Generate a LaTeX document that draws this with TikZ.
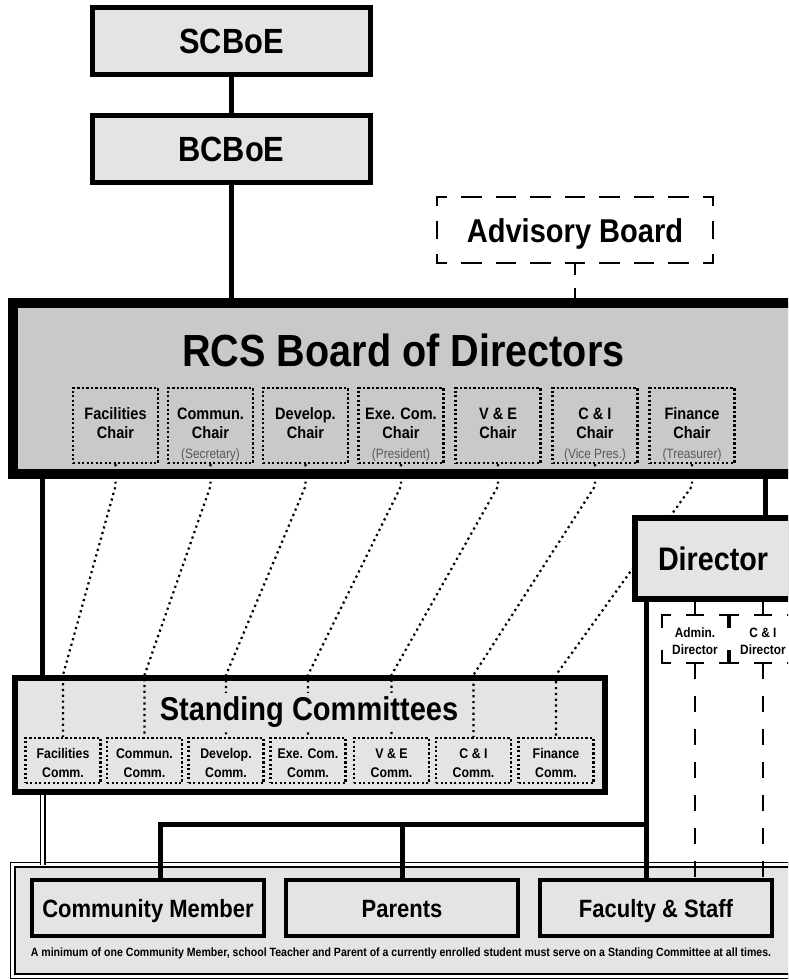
\documentclass[tikz,border=0pt]{standalone}
\usepackage{fontspec}
\setmainfont{Liberation Sans}[FakeStretch=0.88]

\definecolor{boardgray}{gray}{0.79}
\definecolor{boxgray}{gray}{0.895}
\definecolor{officergray}{gray}{0.35}

\newcommand{\officer}[1]{{\fontsize{13.5}{16}\selectfont\mdseries\color{officergray}#1}}

% one side of a dashed frame, dashes centred on the corners
\newcommand{\dashside}[5]{%
  \pgfmathsetlengthmacro{\dashgap}{#3/#4-#5}%
  \pgfmathsetlengthmacro{\dashhalf}{#5/2}%
  \draw[dashline, dash pattern=on #5pt off \dashgap, dash phase=\dashhalf] (#1) -- (#2);%
}
\newcommand{\dashframe}[7]{%
  \dashside{#1.north west}{#1.north east}{#2}{#4}{#5}%
  \dashside{#1.south west}{#1.south east}{#2}{#4}{#5}%
  \dashside{#1.north west}{#1.south west}{#3}{#6}{#7}%
  \dashside{#1.north east}{#1.south east}{#3}{#6}{#7}%
}

\begin{document}
\begin{tikzpicture}[x=1pt, y=-1pt]

\tikzstyle{tier}=[draw, line width=5pt, fill=boxgray, inner sep=0pt, minimum width=278pt, minimum height=67pt, font=\fontsize{35}{40}\selectfont\bfseries];
\tikzstyle{link}=[line width=5pt];
\tikzstyle{dashline}=[line width=2.5pt, line cap=rect];
\tikzstyle{dotframe}=[line width=2.2pt, dash pattern=on 2.2pt off 2.3pt];
\tikzstyle{dotlink}=[line width=2.2pt, dash pattern=on 2.2pt off 3.6pt];
\tikzstyle{chair}=[draw, dotframe, inner sep=0pt, minimum width=85pt, text height=70pt, text depth=5pt, align=center, font=\fontsize{16.5}{19.5}\selectfont\bfseries];
\tikzstyle{comm}=[draw, dotframe, inner sep=0pt, minimum width=75pt, text height=39pt, text depth=6pt, align=center, font=\fontsize{14}{19}\selectfont\bfseries];
\tikzstyle{subdir}=[inner sep=0pt, outer sep=0pt, minimum width=66pt, text height=39pt, text depth=9pt, align=center, font=\fontsize{13.5}{17}\selectfont\bfseries];
\tikzstyle{member}=[draw, line width=3.5pt, fill=boxgray, inner sep=0pt, minimum width=232pt, minimum height=56pt, text height=18pt, text depth=0pt, font=\fontsize{25}{30}\selectfont\bfseries];

\useasboundingbox (0,0) rectangle (788,980);
\clip (0,0) rectangle (788,980);

\coordinate (lft) at (42.5, 0);
\coordinate (rgt) at (765, 0);
\coordinate (bus) at (646.5, 824);

% members
\node[draw, line width=1.5pt, double=white, double distance=3pt, fill=boxgray, outer sep=0pt, minimum width=787.5pt, minimum height=111.5pt] (members) at (406.25, 920.25) {};
\node[font=\fontsize{12}{14}\selectfont\bfseries] (note) at (401, 953) {A minimum of one Community Member, school Teacher and Parent of a currently enrolled student must serve on a Standing Committee at all times.};

% boards of education
\node[tier] (scboe) at (231.5, 41) {SCBoE};
\node[tier] (bcboe) at (231.5, 149) {BCBoE};
\draw[link] (scboe) -- (bcboe);

\node[inner sep=0pt, outer sep=0pt, minimum width=276pt, minimum height=66pt, text height=24pt, text depth=0pt, font=\fontsize{33}{38}\selectfont\bfseries] (advisory) at (575, 230) {Advisory Board};
\dashframe{advisory}{276}{66}{8}{18}{2}{16}

% board of directors
\node[draw, line width=10pt, fill=boardgray, minimum width=787.5pt, minimum height=171pt] (rcs) at (406.25, 388.5) {};
\node[font=\fontsize{45}{50}\selectfont\bfseries] (rcstitle) at (403.5, 350) {RCS Board of Directors};
\draw[link] (bcboe.south) -- (bcboe.south |- rcs.north);
\draw[dashline, line cap=butt, dash pattern=on 12pt off 13pt] (advisory.south) -- (advisory.south |- rcs.north);

\node[chair] (facchair) at (115.5, 425.5) {Facilities\\Chair\\\officer{\phantom{(X)}}};
\node[chair] (comchair) at (210.5, 425.5) {Commun.\\Chair\\\officer{(Secretary)}};
\node[chair] (devchair) at (305.5, 425.5) {Develop.\\Chair\\\officer{\phantom{(X)}}};
\node[chair] (exechair) at (401, 425.5) {Exe. Com.\\Chair\\\officer{(President)}};
\node[chair] (vechair) at (498, 425.5) {V \& E\\Chair\\\officer{\phantom{(X)}}};
\node[chair] (cichair) at (595, 425.5) {C \& I\\Chair\\\officer{(Vice Pres.)}};
\node[chair] (finchair) at (692, 425.5) {Finance\\Chair\\\officer{(Treasurer)}};

% standing committees
\node[draw, line width=6pt, fill=boxgray, minimum width=590pt, minimum height=114pt] (sc) at (310, 735) {};
\draw[link] (lft |- rcs.south) -- (lft |- sc.north);
\draw[line width=1.5pt, double=white, double distance=3pt] (lft |- sc.south) -- (lft |- members.north);

\node[comm] (faccomm) at (63, 760.5) {Facilities\\Comm.};
\node[comm] (comcomm) at (144.5, 760.5) {Commun.\\Comm.};
\node[comm] (devcomm) at (226, 760.5) {Develop.\\Comm.};
\node[comm] (execomm) at (308, 760.5) {Exe. Com.\\Comm.};
\node[comm] (vecomm) at (391.5, 760.5) {V \& E\\Comm.};
\node[comm] (cicomm) at (473.5, 760.5) {C \& I\\Comm.};
\node[comm] (fincomm) at (556, 760.5) {Finance\\Comm.};

\draw[dotlink] (facchair.south) -- ++(0,22) -- (faccomm.north |- sc.north) -- (faccomm.north);
\draw[dotlink] (comchair.south) -- ++(0,22) -- (comcomm.north |- sc.north) -- (comcomm.north);
\draw[dotlink] (devchair.south) -- ++(0,22) -- (devcomm.north |- sc.north) -- (devcomm.north);
\draw[dotlink] (exechair.south) -- ++(0,22) -- (execomm.north |- sc.north) -- (execomm.north);
\draw[dotlink] (vechair.south) -- ++(0,22) -- (vecomm.north |- sc.north) -- (vecomm.north);
\draw[dotlink] (cichair.south) -- ++(0,22) -- (cicomm.north |- sc.north) -- (cicomm.north);
\draw[dotlink] (finchair.south) -- ++(0,22) -- (fincomm.north |- sc.north) -- (fincomm.north);

\node[fill=boxgray, inner sep=3pt, text height=24pt, text depth=8pt, anchor=base, font=\fontsize{33}{38}\selectfont\bfseries] (sctitle) at (309, 720) {Standing Committees};

% director
\node[draw, line width=6pt, fill=boxgray, minimum width=156pt, minimum height=81pt, text height=23pt, text depth=0pt, font=\fontsize{32.6}{38}\selectfont\bfseries] (director) at (713, 558.5) {Director};
\draw[link] (rgt |- rcs.south) -- (rgt |- director.north);

\node[subdir] (admin) at (695, 639) {Admin.\\Director};
\node[subdir] (cidir) at (763, 639) {C \& I\\Director};
\dashframe{admin}{66}{48}{2}{16}{1}{24}
\dashframe{cidir}{66}{48}{2}{16}{1}{24}

% school community
\node[member] (community) at (148, 908) {Community Member};
\node[member] (parents) at (402, 908) {Parents};
\node[member] (faculty) at (656, 908) {Faculty \& Staff};

\draw[dashline, line cap=butt] (admin.north) -- (admin.north |- director.south);
\draw[dashline, line cap=butt] (cidir.north) -- (cidir.north |- director.south);
\draw[dashline, line cap=butt, dash pattern=on 16pt off 17pt] (admin.south) -- (admin.south |- faculty.north);
\draw[dashline, line cap=butt, dash pattern=on 16pt off 17pt] (cidir.south) -- (cidir.south |- faculty.north);

\draw[link] (bus |- director.south) -- (bus |- faculty.north);
\draw[link] ([xshift=12pt]community.north) |- (bus);
\draw[link] (parents.north) -- (parents.north |- bus);

\end{tikzpicture}
\end{document}
